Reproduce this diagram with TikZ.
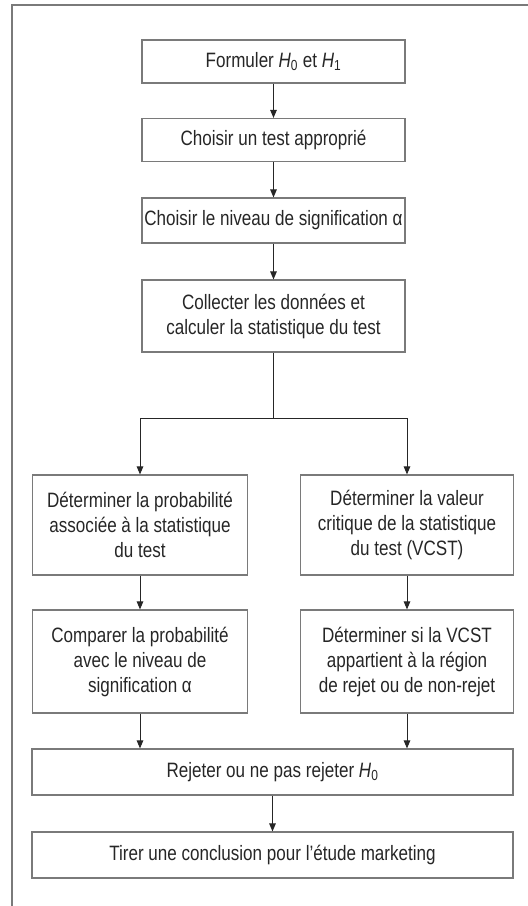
\documentclass[tikz,border=0pt]{standalone}
\usepackage{fontspec}
\setmainfont[FakeStretch=0.82]{Liberation Sans}
\usetikzlibrary{arrows.meta}
\definecolor{txt}{HTML}{262626}
\definecolor{frm}{HTML}{7A7A7A}
\tikzset{
  stepbox/.style={draw=frm, line width=1.1pt, align=center, text=txt, inner sep=0pt,
    font=\fontsize{20.8}{25}\selectfont},
  conn/.style={draw=txt, line width=1pt, -{Triangle[length=8pt,width=6.5pt]}},
  plain/.style={draw=txt, line width=1pt}
}
\begin{document}
\begin{tikzpicture}[x=1pt,y=-1pt]
\useasboundingbox (0,0) rectangle (528,906);
\draw[frm, line width=1.5pt] (528,5) -- (12,5) -- (12,906);
\node[stepbox, minimum width=263pt, minimum height=43pt] (b1) at (273.5,61.5) {Formuler \textit{H}\textsubscript{0} et \textit{H}\textsubscript{1}};
\node[stepbox, minimum width=263pt, minimum height=43pt] (b2) at (273.5,140) {Choisir un test approprié};
\node[stepbox, minimum width=263pt, minimum height=45pt] (b3) at (273.5,220.5) {Choisir le niveau de signification α};
\node[stepbox, minimum width=263pt, minimum height=72pt] (b4) at (273.5,316) {Collecter les données et\\calculer la statistique du test};
\node[stepbox, minimum width=215pt, minimum height=100pt] (b5) at (140,525) {Déterminer la probabilité\\associée à la statistique\\du test};
\node[stepbox, minimum width=213pt, minimum height=100pt] (b6) at (407,525) {Déterminer la valeur\\critique de la statistique\\du test (VCST)};
\node[stepbox, minimum width=215pt, minimum height=103pt] (b7) at (140,661.5) {Comparer la probabilité\\avec le niveau de\\signification α};
\node[stepbox, minimum width=213pt, minimum height=103pt] (b8) at (407,661.5) {Déterminer si la VCST\\appartient à la région\\de rejet ou de non-rejet};
\node[stepbox, minimum width=481pt, minimum height=46pt] (b9) at (272.5,772) {Rejeter ou ne pas rejeter \textit{H}\textsubscript{0}};
\node[stepbox, minimum width=481pt, minimum height=46pt] (b10) at (272.5,855) {Tirer une conclusion pour l’étude marketing};
\coordinate (split) at (273.5,418);
\draw[conn] (b1) -- (b2);
\draw[conn] (b2) -- (b3);
\draw[conn] (b3) -- (b4);
\draw[plain] (b4.south) -- (split);
\draw[conn] (split) -| (b5.north);
\draw[conn] (split) -| (b6.north);
\draw[conn] (b5) -- (b7);
\draw[conn] (b6) -- (b8);
\draw[conn] (b7.south) -- (b7.south |- b9.north);
\draw[conn] (b8.south) -- (b8.south |- b9.north);
\draw[conn] (b9) -- (b10);
\end{tikzpicture}
\end{document}
